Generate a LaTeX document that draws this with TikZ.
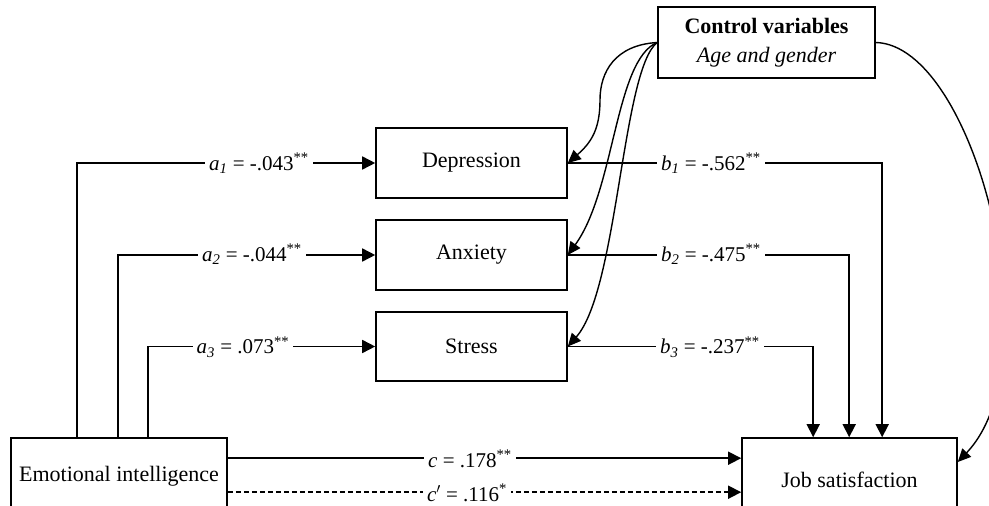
\documentclass[tikz,border=0pt]{standalone}
\usepackage{fontspec}
\setmainfont{Liberation Serif}
\usetikzlibrary{arrows.meta,calc}
\begin{document}
\begin{tikzpicture}[x=1pt,y=-1pt,
  box/.style={draw,line width=1.6pt,inner sep=0pt,font=\fontsize{22}{27}\selectfont},
  lab/.style={fill=white,inner sep=4pt,font=\fontsize{21}{25}\selectfont},
  conn/.style={line width=1.6pt},
  arr/.style={conn,-{Triangle[length=13pt,width=13pt]}},
  carr/.style={line width=1.4pt,-{Triangle[length=13pt,width=12pt]}},
]
\useasboundingbox (0,0) rectangle (989,506);

% nodes
\node[box,minimum width=191pt,minimum height=70pt] (dep) at (471.5,163) {Depression};
\node[box,minimum width=191pt,minimum height=70pt] (anx) at (471.5,255) {Anxiety};
\node[box,minimum width=191pt,minimum height=69pt] (str) at (471.5,346.5) {Stress};
\node[box,minimum width=217pt,minimum height=71pt,align=center,font=\fontsize{22}{29}\selectfont] (ctrl) at (766.5,42.5) {\textbf{Control variables}\\\textit{Age and gender}};
\node[box,minimum width=216pt,minimum height=76pt] (ei) at (119,476) {Emotional intelligence};
\node[box,minimum width=215pt,minimum height=84pt] (js) at (849.5,480) {Job satisfaction};

% a paths
\draw[arr] ($(ei.north west)+(67,0)$) |- (dep.west);
\draw[arr] ($(ei.north west)+(108,0)$) |- (anx.west);
\draw[arr] ($(ei.north west)+(138,0)$) |- (str.west);

% b paths
\draw[arr] (dep.east) -| ($(js.north west)+(141,0)$);
\draw[arr] (anx.east) -| ($(js.north west)+(108,0)$);
\draw[arr] (str.east) -| ($(js.north west)+(72,0)$);

% c paths
\coordinate (cs) at ($(ei.north east)+(0,21)$);
\coordinate (cd) at ($(ei.north east)+(0,55)$);
\draw[arr] (cs) -- (cs -| js.west);
\draw[arr,dashed,dash pattern=on 5pt off 3pt] (cd) -- (cd -| js.west);

% labels
\node[lab] (la1) at (259,163) {\textit{a}\textsubscript{\textit{1}} = -.043\textsuperscript{**}};
\node[lab] (la2) at (252,254) {\textit{a}\textsubscript{\textit{2}} = -.044\textsuperscript{**}};
\node[lab] (la3) at (243,347) {\textit{a}\textsubscript{\textit{3}} = .073\textsuperscript{**}};
\node[lab] (lb1) at (711,163) {\textit{b}\textsubscript{\textit{1}} = -.562\textsuperscript{**}};
\node[lab] (lb2) at (711,254) {\textit{b}\textsubscript{\textit{2}} = -.475\textsuperscript{**}};
\node[lab] (lb3) at (710,347) {\textit{b}\textsubscript{\textit{3}} = -.237\textsuperscript{**}};
\node[lab] (lc) at (470,459) {\textit{c} = .178\textsuperscript{**}};
\node[lab] (lcp) at (467,493) {\textit{c}$'$ = .116\textsuperscript{*}};

% control curves
\draw[carr] (ctrl.west) .. controls (615,45) and (600,72) .. (600,100) .. controls (600,128) and (592,142) .. (dep.east);
\draw[carr] (ctrl.west) .. controls (615,60) and (615,190) .. (anx.east);
\draw[carr] (ctrl.west) .. controls (622,70) and (618,290) .. (str.east);
\draw[carr] (ctrl.east) .. controls (975,45) and (1055,360) .. ($(js.east)+(0,-18)$);
\end{tikzpicture}
\end{document}
